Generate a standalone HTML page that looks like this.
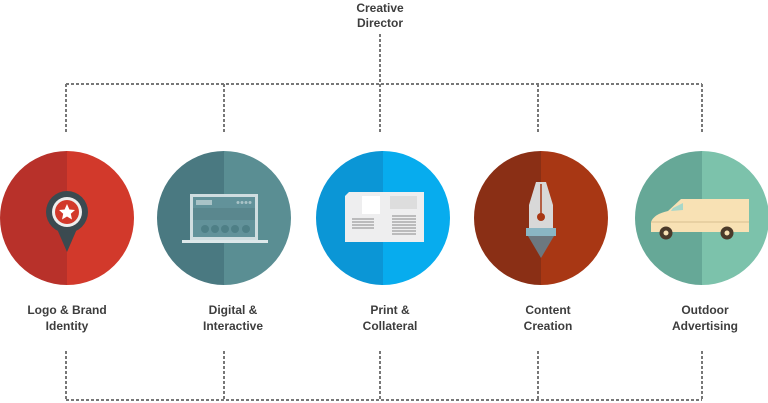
<!DOCTYPE html>
<html><head><meta charset="utf-8"><style>
html,body{margin:0;padding:0;background:#fff;width:768px;height:403px;overflow:hidden}
text{font-family:"Liberation Sans",sans-serif;font-weight:bold;font-size:12px;fill:#3d3d3d;text-anchor:middle}
</style></head><body>
<svg width="768" height="403" viewBox="0 0 768 403" xmlns="http://www.w3.org/2000/svg">
<defs>
<clipPath id="c1"><circle cx="67" cy="218" r="67"/></clipPath>
<clipPath id="c2"><circle cx="224" cy="218" r="67"/></clipPath>
<clipPath id="c3"><circle cx="383" cy="218" r="67"/></clipPath>
<clipPath id="c4"><circle cx="541" cy="218" r="67"/></clipPath>
<clipPath id="c5"><circle cx="702" cy="218" r="67"/></clipPath>
</defs>
<g stroke="#777" stroke-width="2" stroke-dasharray="3,2" fill="none">
<path d="M380 34V84M66 84H702M66 84V133M224 84V133M380 84V133M538 84V133M702 84V133"/>
<path d="M66 351V400M224 351V400M380 351V400M538 351V400M702 351V400M66 400H702"/>
</g>
<!-- circle 1 -->
<g clip-path="url(#c1)"><rect x="0" y="151" width="67" height="134" fill="#b8312a"/><rect x="67" y="151" width="67" height="134" fill="#d2392b"/></g>
<path d="M54 222 L67 252 L80 222Z" fill="#3b4a50"/>
<circle cx="67" cy="212" r="21" fill="#3b4a50"/><circle cx="67" cy="212" r="15" fill="#eee"/><circle cx="67" cy="212" r="12" fill="#d2392b"/>
<polygon points="67,204 69.4,209.5 75,210 70.8,213.8 72,219.5 67,216.5 62,219.5 63.2,213.8 59,210 64.6,209.5" fill="#fff"/>
<!-- circle 2 -->
<g clip-path="url(#c2)"><rect x="157" y="151" width="67" height="134" fill="#4a7981"/><rect x="224" y="151" width="67" height="134" fill="#5a8e93"/></g>
<rect x="190" y="194" width="68" height="46" fill="#cfdde0"/><rect x="193" y="197" width="62" height="40" fill="#62929a"/>
<rect x="196" y="200" width="16" height="5" fill="#a9c3c7"/>
<g fill="#a9c3c7"><circle cx="238" cy="202.5" r="1.5"/><circle cx="242" cy="202.5" r="1.5"/><circle cx="246" cy="202.5" r="1.5"/><circle cx="250" cy="202.5" r="1.5"/></g>
<rect x="193" y="208" width="62" height="12" fill="#5a878e"/>
<g fill="#4e7f86"><circle cx="205" cy="229" r="4"/><circle cx="215" cy="229" r="4"/><circle cx="225" cy="229" r="4"/><circle cx="235" cy="229" r="4"/><circle cx="246" cy="229" r="4"/></g>
<rect x="182" y="240" width="86" height="3" fill="#dde8ea"/>
<!-- circle 3 -->
<g clip-path="url(#c3)"><rect x="316" y="151" width="67" height="134" fill="#0b96d6"/><rect x="383" y="151" width="67" height="134" fill="#07acee"/></g>
<path d="M349 192 L424 192 L424 242 L345 242 L345 196Z" fill="#eeeeef"/>
<rect x="362" y="196" width="18" height="18" fill="#fff"/>
<rect x="390" y="196" width="27" height="13" fill="#ddd"/>
<g stroke="#888" stroke-width="1"><path d="M352 219H374M352 222H374M352 225H374M352 228H374M392 216H416M392 219H416M392 222H416M392 225H416M392 228H416M392 231H416M392 234H416"/></g>
<!-- circle 4 -->
<g clip-path="url(#c4)"><rect x="474" y="151" width="67" height="134" fill="#8a2f15"/><rect x="541" y="151" width="67" height="134" fill="#a83714"/></g>
<path d="M536 182 L546 182 L553 205 L553 228 L529 228 L529 205Z" fill="#d8d8d8"/>
<line x1="541" y1="184" x2="541" y2="215" stroke="#a83714" stroke-width="1.5"/>
<circle cx="541" cy="217" r="4" fill="#a83714"/>
<rect x="526" y="228" width="30" height="8" fill="#8ab6c4"/>
<path d="M528 236 L554 236 L541 258Z" fill="#6c7880"/>
<!-- circle 5 -->
<g clip-path="url(#c5)"><rect x="635" y="151" width="67" height="134" fill="#66a897"/><rect x="702" y="151" width="67" height="134" fill="#7cc2ab"/></g>
<path d="M681 199 L749 199 L749 232 L651 232 L651 222 Q654 214 668 211Z" fill="#f8e1b4"/>
<path d="M673 208 L683 203 L683 210 L671 211Z" fill="#a8d7c9"/>
<line x1="651" y1="222" x2="749" y2="222" stroke="#d9c090" stroke-width="1"/>
<circle cx="666" cy="233" r="6.5" fill="#4b3a2a"/><circle cx="666" cy="233" r="2.5" fill="#f8e1b4"/>
<circle cx="727" cy="233" r="6.5" fill="#4b3a2a"/><circle cx="727" cy="233" r="2.5" fill="#f8e1b4"/>
<!-- labels -->
<text x="380" y="12">Creative</text><text x="380" y="27">Director</text>
<text x="67" y="314">Logo &amp; Brand</text><text x="67" y="330">Identity</text>
<text x="233" y="314">Digital &amp;</text><text x="233" y="330">Interactive</text>
<text x="390" y="314">Print &amp;</text><text x="390" y="330">Collateral</text>
<text x="548" y="314">Content</text><text x="548" y="330">Creation</text>
<text x="705" y="314">Outdoor</text><text x="705" y="330">Advertising</text>
</svg>
</body></html>
